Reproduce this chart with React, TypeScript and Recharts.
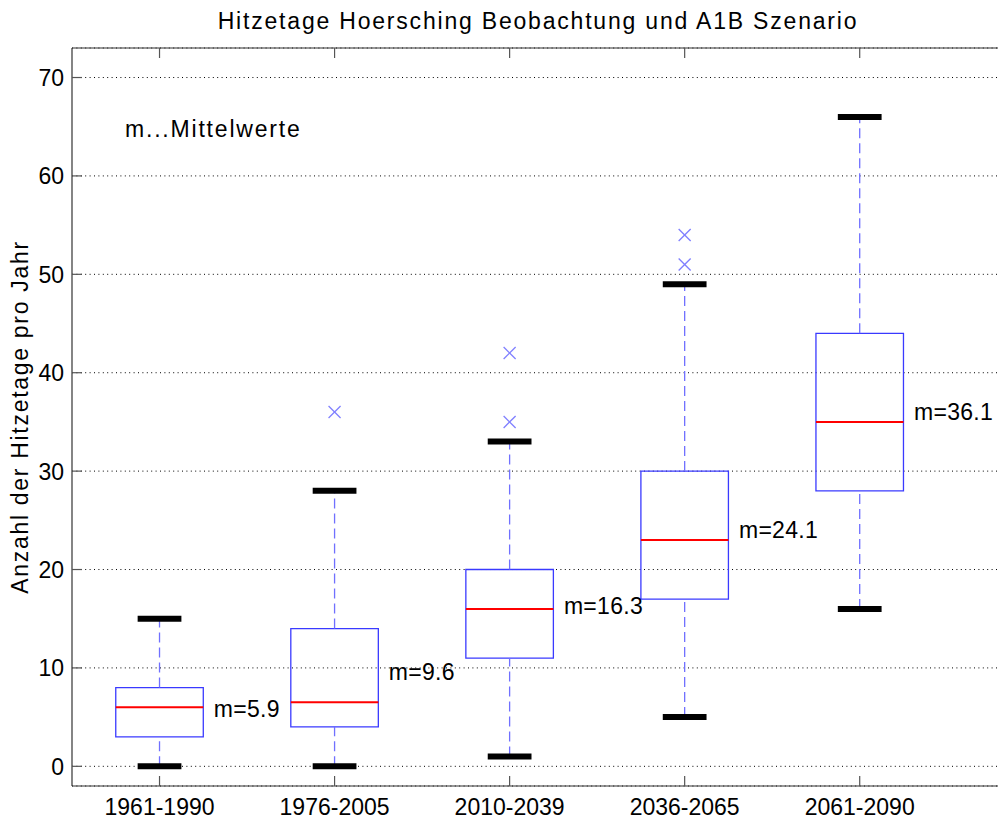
import React from 'react';
import {
  ComposedChart,
  XAxis,
  YAxis,
  CartesianGrid,
  ReferenceArea,
  ReferenceLine,
  Scatter,
} from 'recharts';

const categories = ['1961-1990', '1976-2005', '2010-2039', '2036-2065', '2061-2090'];
const lowerWhisker = [0, 0, 1, 5, 16];
const q1 = [3, 4, 11, 17, 28];
const medians = [6, 6.5, 16, 23, 35];
const q3 = [8, 14, 20, 30, 44];
const upperWhisker = [15, 28, 33, 49, 66];
const means = [5.9, 9.6, 16.3, 24.1, 36.1];
const outliers = [[], [36], [35, 42], [51, 54], []];
const yTicks = [0, 10, 20, 30, 40, 50, 60, 70];
const xTicks = [1, 2, 3, 4, 5];
const titleText = 'Hitzetage Hoersching Beobachtung und A1B Szenario';
const yLabelText = 'Anzahl der Hitzetage pro Jahr';
const noteText = 'm...Mittelwerte';
const noteX = 0.803;
const noteY = 64.8;

const FONT = '"Liberation Sans", Arial, Helvetica, sans-serif';
const BOX_HALF = 0.25;
const CAP_HALF = 0.125;
const MEAN_OFFSET = 0.31;

const outlierPoints = outliers.flatMap((vals, i) => vals.map((v) => ({ x: i + 1, y: v })));
const meanPoints = means.map((m, i) => ({ x: i + 1 + MEAN_OFFSET, y: m, text: `m=${m}` }));
const notePoints = [{ x: noteX, y: noteY, text: noteText }];

const XTick = (props: any) => {
  const { x, y, payload } = props;
  return (
    <g>
      <line x1={x} x2={x} y1={y} y2={y - 10} stroke="#555" strokeWidth={1.2} />
      <text x={x} y={y + 29} textAnchor="middle" fontSize={23} fontFamily={FONT} fill="#000">
        {categories[payload.value - 1]}
      </text>
    </g>
  );
};

const TopTick = (props: any) => {
  const { x, y } = props;
  return <line x1={x} x2={x} y1={y} y2={y + 10} stroke="#555" strokeWidth={1.2} />;
};

const YTick = (props: any) => {
  const { x, y, payload } = props;
  return (
    <g>
      <line x1={x} x2={x + 10} y1={y} y2={y} stroke="#555" strokeWidth={1.2} />
      <text x={x - 8} y={y + 8.5} textAnchor="end" fontSize={23} fontFamily={FONT} fill="#000">
        {payload.value}
      </text>
    </g>
  );
};

const OutlierShape = (props: any) => {
  const { cx, cy } = props;
  const s = 6;
  return (
    <g stroke="#7f7fff" strokeWidth={1.3}>
      <line x1={cx - s} y1={cy - s} x2={cx + s} y2={cy + s} />
      <line x1={cx - s} y1={cy + s} x2={cx + s} y2={cy - s} />
    </g>
  );
};

const MeanShape = (props: any) => {
  const { cx, cy, payload } = props;
  return (
    <text x={cx} y={cy + 8.5} fontSize={23} fontFamily={FONT} fill="#000" letterSpacing={0.3}>
      {payload.text}
    </text>
  );
};

const NoteShape = (props: any) => {
  const { cx, cy, payload } = props;
  return (
    <text x={cx} y={cy + 8} fontSize={23} fontFamily={FONT} fill="#000" letterSpacing={1.8}>
      {payload.text}
    </text>
  );
};

const YLabel = () => (
  <text
    x={20}
    y={417}
    transform="rotate(-90, 20, 417)"
    textAnchor="middle"
    dominantBaseline="central"
    fontSize={23}
    fontFamily={FONT}
    fill="#000"
    letterSpacing={1.7}
  >
    {yLabelText}
  </text>
);

export default function App() {
  return (
    <div
      style={{
        position: 'fixed',
        left: 0,
        top: 0,
        width: 998,
        height: 823,
        overflow: 'hidden',
        background: '#fff',
      }}
    >
      <svg
        width={998}
        height={40}
        style={{ position: 'absolute', left: 0, top: 0 }}
      >
        <text x={538} y={29} textAnchor="middle" fontSize={23} fontFamily={FONT} fill="#000" letterSpacing={1.8}>
          {titleText}
        </text>
      </svg>
      <div style={{ position: 'absolute', left: 0, top: 0 }}>
        <ComposedChart
          width={1010}
          height={823}
          margin={{ top: 47, right: 5, bottom: 0, left: 0 }}
          data={[]}
        >
          <CartesianGrid vertical={false} stroke="#000" strokeDasharray="1 3.4" strokeWidth={1} />
          <XAxis
            type="number"
            dataKey="x"
            domain={[0.5, 5.83]}
            ticks={xTicks}
            allowDataOverflow
            height={37}
            tickSize={0}
            tickMargin={0}
            tickLine={false}
            tick={<XTick />}
            axisLine={{ stroke: '#333', strokeWidth: 1.2 }}
            interval={0}
          />
          <XAxis
            xAxisId="top"
            orientation="top"
            type="number"
            dataKey="x"
            domain={[0.5, 5.83]}
            ticks={xTicks}
            allowDataOverflow
            height={1}
            tickSize={0}
            tickMargin={0}
            tickLine={false}
            tick={<TopTick />}
            axisLine={{ stroke: '#333', strokeWidth: 1.2 }}
            interval={0}
          />
          <YAxis
            type="number"
            dataKey="y"
            domain={[-2, 73]}
            ticks={yTicks}
            allowDataOverflow
            width={72}
            tickSize={0}
            tickMargin={0}
            tickLine={false}
            tick={<YTick />}
            axisLine={{ stroke: '#333', strokeWidth: 1.2 }}
            interval={0}
            label={() => <YLabel />}
          />
          {categories.map((c, i) => (
            <ReferenceLine
              key={`wu-${c}`}
              segment={[
                { x: i + 1, y: q3[i] },
                { x: i + 1, y: upperWhisker[i] },
              ]}
              stroke="#7070ff"
              strokeWidth={1.3}
              strokeDasharray="10 5"
            />
          ))}
          {categories.map((c, i) => (
            <ReferenceLine
              key={`wl-${c}`}
              segment={[
                { x: i + 1, y: lowerWhisker[i] },
                { x: i + 1, y: q1[i] },
              ]}
              stroke="#7070ff"
              strokeWidth={1.3}
              strokeDasharray="10 5"
            />
          ))}
          {categories.map((c, i) => (
            <ReferenceArea
              key={`box-${c}`}
              x1={i + 1 - BOX_HALF}
              x2={i + 1 + BOX_HALF}
              y1={q1[i]}
              y2={q3[i]}
              fill="none"
              fillOpacity={0}
              stroke="#3a3aff"
              strokeWidth={1.3}
            />
          ))}
          {categories.map((c, i) => (
            <ReferenceLine
              key={`med-${c}`}
              segment={[
                { x: i + 1 - BOX_HALF, y: medians[i] },
                { x: i + 1 + BOX_HALF, y: medians[i] },
              ]}
              stroke="#ff0000"
              strokeWidth={2}
            />
          ))}
          {categories.map((c, i) => (
            <ReferenceLine
              key={`cu-${c}`}
              segment={[
                { x: i + 1 - CAP_HALF, y: upperWhisker[i] },
                { x: i + 1 + CAP_HALF, y: upperWhisker[i] },
              ]}
              stroke="#000"
              strokeWidth={6}
            />
          ))}
          {categories.map((c, i) => (
            <ReferenceLine
              key={`cl-${c}`}
              segment={[
                { x: i + 1 - CAP_HALF, y: lowerWhisker[i] },
                { x: i + 1 + CAP_HALF, y: lowerWhisker[i] },
              ]}
              stroke="#000"
              strokeWidth={6}
            />
          ))}
          <Scatter data={outlierPoints} dataKey="y" shape={<OutlierShape />} isAnimationActive={false} />
          <Scatter data={meanPoints} dataKey="y" shape={<MeanShape />} isAnimationActive={false} />
          <Scatter data={notePoints} dataKey="y" shape={<NoteShape />} isAnimationActive={false} />
        </ComposedChart>
      </div>
    </div>
  );
}
